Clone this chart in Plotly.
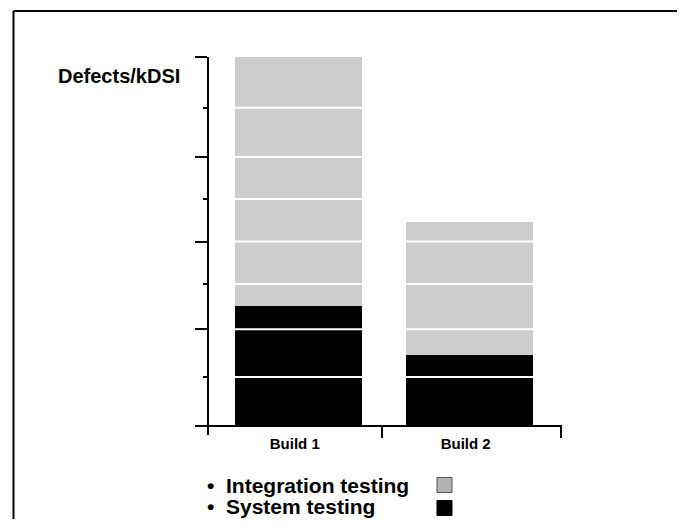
import plotly.graph_objects as go

# ---- data ----
builds = ["Build 1", "Build 2"]
build_pos = [0, 1]
system_testing = [2.60, 1.54]
integration_testing = [5.40, 2.88]
y_major_ticks = [0, 2.1, 4.0, 5.83, 8.0]
y_minor_ticks = [1.06, 3.08, 4.92, 6.9]
x_separators = [0.486, 1.535]
legend_labels = ["Integration testing", "System testing"]

FONT = "Arial, Liberation Sans, sans-serif"
GRAY = "#cdcdcd"

OFF = 8
W, H = 685 - 2 * OFF, 527 - 2 * OFF
PLOT_L, PLOT_R, PLOT_T, PLOT_B = 209, 562, 57, 435
L = PLOT_L - OFF
T = PLOT_T - OFF
R = W - (PLOT_R - OFF)
B = H - (PLOT_B - OFF)
pw, ph = PLOT_R - PLOT_L, PLOT_B - PLOT_T
y_range = [-0.195, 8.0]
x_range = [-0.525, 1.54]


def px_x(p):
    return (p - PLOT_L) / pw


def px_y(p):
    return (PLOT_B - p) / ph


fig = go.Figure()
fig.add_trace(go.Bar(x=build_pos, y=system_testing, width=0.745,
                     marker=dict(color="black", line=dict(width=0)),
                     name="System testing"))
fig.add_trace(go.Bar(x=build_pos, y=integration_testing, width=0.745,
                     marker=dict(color=GRAY, line=dict(width=0)),
                     name="Integration testing"))

top = max(a + b for a, b in zip(system_testing, integration_testing))
grid_vals = sorted(v for v in y_major_ticks + y_minor_ticks if 0 < v < top)
gx, gy = [], []
for v in grid_vals:
    gx += [-0.45, 1.45, None]
    gy += [v, v, None]
fig.add_trace(go.Scatter(x=gx, y=gy, mode="lines",
                         line=dict(color="white", width=2),
                         hoverinfo="skip", showlegend=False))

x_axis_pos = (0 - y_range[0]) / (y_range[1] - y_range[0])

fig.update_layout(
    width=W, height=H,
    margin=dict(l=L, r=R, t=T, b=B, pad=0),
    paper_bgcolor="white", plot_bgcolor="white",
    barmode="stack", showlegend=False,
    font=dict(family=FONT, color="black"),
    xaxis=dict(range=x_range, anchor="free", position=x_axis_pos,
               showline=True, linecolor="black", linewidth=2,
               tickmode="array", tickvals=build_pos, ticktext=builds,
               ticks="outside", ticklen=0, tickcolor="black",
               tickfont=dict(family=FONT, size=15, weight="bold", color="black"),
               ticklabelshift=-4, ticklabelstandoff=4,
               showgrid=False, zeroline=False,
               minor=dict(tickmode="array", tickvals=x_separators,
                          ticks="outside", ticklen=11, tickwidth=2,
                          tickcolor="black", showgrid=False)),
    yaxis=dict(range=y_range, showline=True, linecolor="black", linewidth=2,
               tickmode="array", tickvals=y_major_ticks,
               ticks="outside", ticklen=12, tickwidth=2, tickcolor="black",
               showticklabels=False, showgrid=False, zeroline=False,
               minor=dict(tickmode="array", tickvals=y_minor_ticks,
                          ticks="outside", ticklen=4, tickwidth=2,
                          tickcolor="black", showgrid=False)),
)

annotations = [
    dict(text="<b>Defects/kDSI</b>", x=px_x(56), y=px_y(76),
         xref="paper", yref="paper", xanchor="left", yanchor="middle",
         showarrow=False, font=dict(family=FONT, size=20, color="black")),
]
# frame: top edge and left edge drawn as separate open lines
shapes = [
    dict(type="line", xref="paper", yref="paper",
         x0=px_x(13.5), x1=px_x(690), y0=px_y(11), y1=px_y(11),
         line=dict(color="black", width=2), layer="below"),
    dict(type="line", xref="paper", yref="paper",
         x0=px_x(13.5), x1=px_x(13.5), y0=px_y(11), y1=px_y(530),
         line=dict(color="black", width=2), layer="below"),
]
legend_rows = [(485.5, "#b3b3b3", "#555555"), (506.5, "black", "black")]
for label, (cy, fill, edge) in zip(legend_labels, legend_rows):
    annotations.append(dict(text="<b>•</b>", x=px_x(205), y=px_y(cy),
                            xref="paper", yref="paper", xanchor="left",
                            yanchor="middle", showarrow=False,
                            font=dict(family=FONT, size=21, color="black")))
    annotations.append(dict(text="<b>" + label + "</b>", x=px_x(224), y=px_y(cy),
                            xref="paper", yref="paper", xanchor="left",
                            yanchor="middle", showarrow=False,
                            font=dict(family=FONT, size=21, color="black")))
for (cy, fill, edge), sq_cy in zip(legend_rows, [485, 508]):
    shapes.append(dict(type="rect", xref="paper", yref="paper",
                       x0=px_x(437), x1=px_x(452),
                       y0=px_y(sq_cy + 7.5), y1=px_y(sq_cy - 7.5),
                       fillcolor=fill, line=dict(color=edge, width=1)))

fig.update_layout(annotations=annotations, shapes=shapes)
fig.write_html("out.html")
